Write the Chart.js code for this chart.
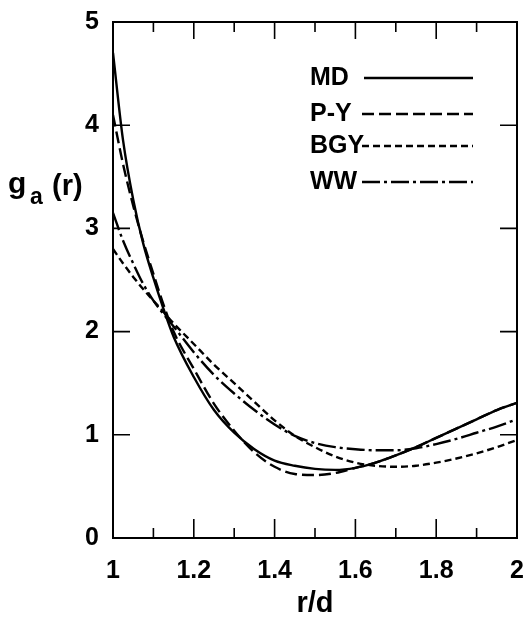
<!DOCTYPE html>
<html>
<head>
<meta charset="utf-8">
<script src="https://cdn.jsdelivr.net/npm/chart.js@4.4.0/dist/chart.umd.min.js"></script>
<style>
  html, body { margin: 0; padding: 0; background: #fff; }
</style>
</head>
<body>
<canvas id="chart" width="523" height="623"></canvas>
<script>
// r/d sample points (shared by all curves)
const rValues = [1.00, 1.025, 1.05, 1.075, 1.10, 1.125, 1.15, 1.20, 1.25, 1.30, 1.35, 1.40, 1.45, 1.50, 1.55, 1.60, 1.65, 1.70, 1.75, 1.80, 1.85, 1.90, 1.95, 2.00];

const mdValues  = [4.70, 3.85, 3.28, 2.85, 2.52, 2.22, 1.95, 1.56, 1.24, 1.02, 0.86, 0.75, 0.70, 0.67, 0.66, 0.68, 0.73, 0.80, 0.88, 0.97, 1.06, 1.15, 1.24, 1.31];
const pyValues  = [4.10, 3.62, 3.22, 2.87, 2.56, 2.26, 2.00, 1.64, 1.30, 1.04, 0.83, 0.69, 0.62, 0.61, 0.63, 0.68, 0.73, 0.80, 0.88, 0.97, 1.06, 1.15, 1.24, 1.31];
const bgyValues = [2.80, 2.66, 2.53, 2.41, 2.30, 2.19, 2.08, 1.88, 1.68, 1.50, 1.32, 1.14, 0.99, 0.88, 0.79, 0.73, 0.70, 0.69, 0.70, 0.73, 0.77, 0.82, 0.88, 0.95];
const wwValues  = [3.15, 2.88, 2.66, 2.46, 2.30, 2.17, 2.05, 1.80, 1.58, 1.40, 1.24, 1.10, 0.99, 0.92, 0.88, 0.86, 0.85, 0.85, 0.87, 0.91, 0.96, 1.02, 1.08, 1.15];

const seriesNames = ['MD', 'P-Y', 'BGY', 'WW'];
const seriesDash = [[], [12, 5], [7, 4], [18, 4, 3, 4]];

const xTickValues = [1, 1.2, 1.4, 1.6, 1.8, 2];
const yTickValues = [0, 1, 2, 3, 4, 5];

const FONT = '"Liberation Sans", Arial, sans-serif';

function toPoints(ys) {
    return rValues.map((r, i) => ({ x: r, y: ys[i] }));
}

const datasets = [mdValues, pyValues, bgyValues, wwValues].map((vals, i) => ({
    label: seriesNames[i],
    data: toPoints(vals),
    borderColor: '#000',
    borderWidth: 2.4,
    borderDash: seriesDash[i],
    pointRadius: 0,
    fill: false,
    cubicInterpolationMode: 'monotone'
}));

// frame, inner ticks, legend and y title
const decorations = {
    id: 'decorations',
    afterDraw(chart) {
        const ctx = chart.ctx;
        const { left, right, top, bottom } = chart.chartArea;
        const xs = chart.scales.x;
        const ys = chart.scales.y;
        ctx.save();
        ctx.strokeStyle = '#000';
        ctx.lineWidth = 2;
        ctx.setLineDash([]);

        // top and right edges
        ctx.beginPath();
        ctx.moveTo(left, top);
        ctx.lineTo(right, top);
        ctx.lineTo(right, bottom);
        ctx.stroke();

        // x ticks (inside, top and bottom)
        ctx.lineWidth = 1.6;
        for (let i = 1; i < 10; i++) {
            const px = xs.getPixelForValue(1 + i / 10);
            const major = i % 2 === 0;
            ctx.beginPath();
            ctx.moveTo(px, bottom);
            ctx.lineTo(px, bottom - (major ? 19 : 10));
            ctx.moveTo(px, top);
            ctx.lineTo(px, top + (major ? 17 : 10));
            ctx.stroke();
        }
        // y ticks (inside, left and right)
        for (let v = 1; v < 5; v++) {
            const py = ys.getPixelForValue(v);
            ctx.beginPath();
            ctx.moveTo(left, py);
            ctx.lineTo(left + 17, py);
            ctx.moveTo(right, py);
            ctx.lineTo(right - 17, py);
            ctx.stroke();
        }

        // legend
        const legendY = [78, 114, 146, 182];
        ctx.fillStyle = '#000';
        ctx.font = 'bold 25px ' + FONT;
        ctx.textBaseline = 'middle';
        ctx.textAlign = 'left';
        ctx.lineWidth = 2.4;
        seriesNames.forEach((name, i) => {
            ctx.fillText(name, 310, legendY[i]);
            ctx.setLineDash(seriesDash[i]);
            ctx.beginPath();
            ctx.moveTo(i === 0 ? 364 : 362, legendY[i]);
            ctx.lineTo(473, legendY[i]);
            ctx.stroke();
        });
        ctx.setLineDash([]);

        // y axis title g_a(r)
        ctx.textBaseline = 'alphabetic';
        ctx.font = 'bold 30px ' + FONT;
        ctx.fillText('g', 8, 193);
        ctx.font = 'bold 23px ' + FONT;
        ctx.fillText('a', 30, 204);
        ctx.font = 'bold 29px ' + FONT;
        ctx.fillText('(r)', 52, 195);
        ctx.restore();
    }
};

new Chart(document.getElementById('chart'), {
    type: 'line',
    data: { datasets: datasets },
    options: {
        responsive: false,
        animation: false,
        layout: { padding: { left: 0, right: 6, top: 22, bottom: 0 } },
        plugins: {
            legend: { display: false },
            tooltip: { enabled: false }
        },
        scales: {
            x: {
                type: 'linear',
                min: 1,
                max: 2,
                afterFit: (scale) => {
                    scale.height = 85;
                    scale.paddingLeft = 0;
                    scale.paddingRight = 0;
                },
                afterBuildTicks: (scale) => { scale.ticks = xTickValues.map(v => ({ value: v })); },
                grid: { display: false, drawTicks: false },
                border: { display: true, color: '#000', width: 2 },
                ticks: {
                    color: '#000',
                    font: { family: FONT, size: 25, weight: 'bold' },
                    padding: 18,
                    maxRotation: 0,
                    autoSkip: false,
                    callback: (v) => (v === 1 || v === 2) ? String(v) : v.toFixed(1)
                },
                title: {
                    display: true,
                    text: 'r/d',
                    color: '#000',
                    font: { family: FONT, size: 29, weight: 'bold' },
                    padding: { top: 0, bottom: 2 }
                }
            },
            y: {
                min: 0,
                max: 5,
                afterFit: (scale) => {
                    scale.width = 113;
                    scale.paddingTop = 0;
                    scale.paddingBottom = 0;
                },
                afterBuildTicks: (scale) => { scale.ticks = yTickValues.map(v => ({ value: v })); },
                grid: { display: false, drawTicks: false },
                border: { display: true, color: '#000', width: 2 },
                ticks: {
                    color: '#000',
                    font: { family: FONT, size: 25, weight: 'bold' },
                    padding: 14
                }
            }
        }
    },
    plugins: [decorations]
});
</script>
</body>
</html>
